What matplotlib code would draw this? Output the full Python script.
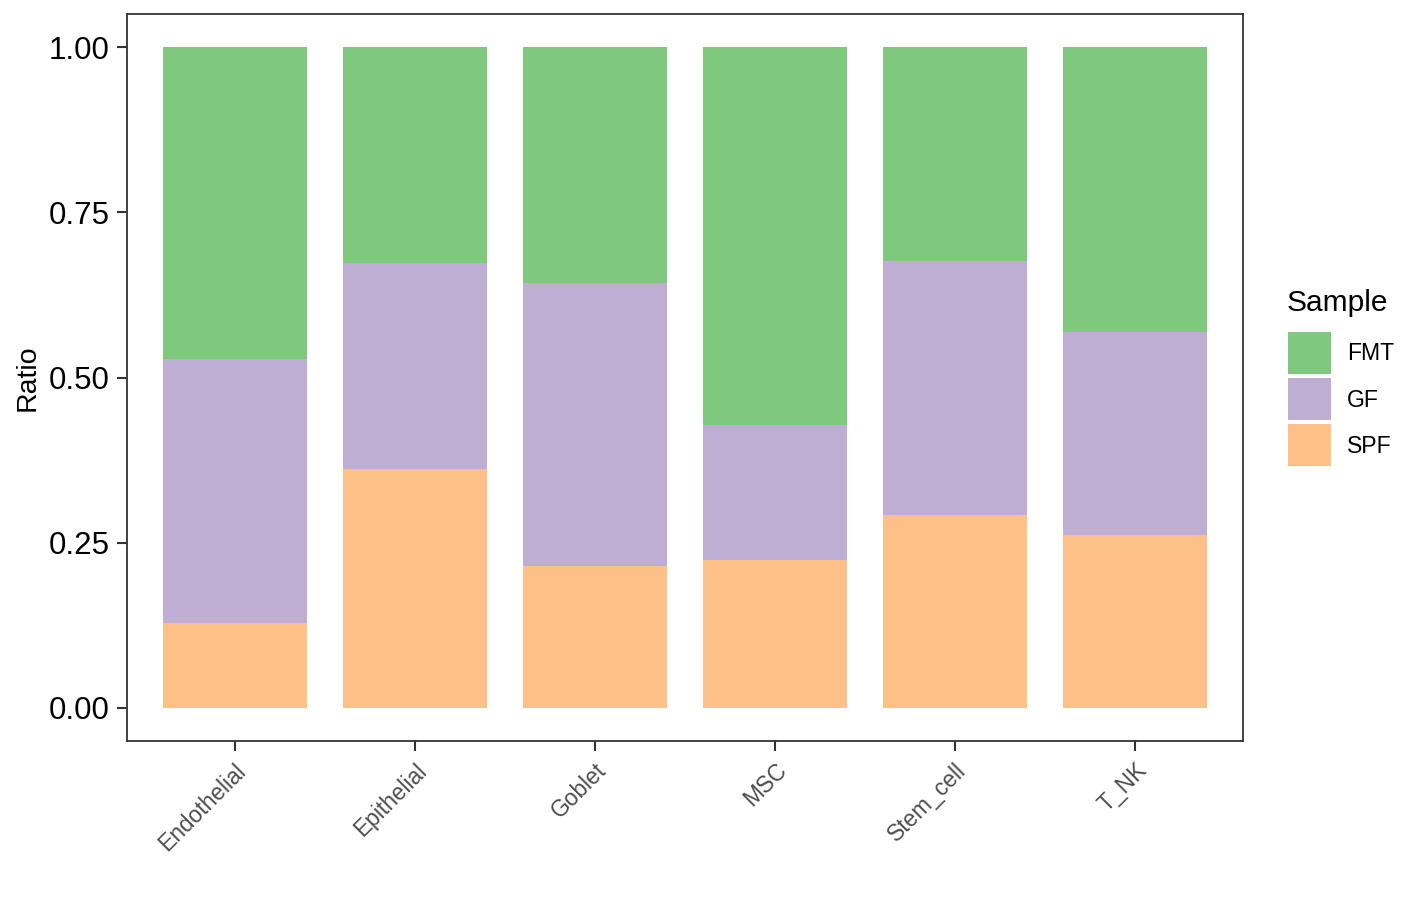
import matplotlib
matplotlib.use("Agg")
import matplotlib.pyplot as plt
from matplotlib.patches import Rectangle
import numpy as np

plt.rcParams['font.family'] = ['Liberation Sans', 'DejaVu Sans']

categories = ["Endothelial", "Epithelial", "Goblet", "MSC", "Stem_cell", "T_NK"]
samples = ["FMT", "GF", "SPF"]
spf = [0.129, 0.362, 0.215, 0.224, 0.292, 0.262]
gf = [0.399, 0.311, 0.428, 0.204, 0.384, 0.307]
fmt = [1 - a - b for a, b in zip(spf, gf)]
colors = {"FMT": "#7FC97F", "GF": "#BEAED4", "SPF": "#FDC086"}
yticks = [0.00, 0.25, 0.50, 0.75, 1.00]
ytick_labels = ["0.00", "0.25", "0.50", "0.75", "1.00"]

W, H = 1424, 898
fig = plt.figure(figsize=(W / 100, H / 100), dpi=100)
ax = fig.add_axes([126.5 / W, 1 - 741 / H, (1243 - 126.5) / W, (741 - 14) / H])

x = np.arange(len(categories))
ax.bar(x, spf, width=0.8, color=colors["SPF"], linewidth=0)
ax.bar(x, gf, width=0.8, bottom=spf, color=colors["GF"], linewidth=0)
ax.bar(x, fmt, width=0.8, bottom=np.array(spf) + np.array(gf), color=colors["FMT"], linewidth=0)

ax.set_xlim(-0.6, len(categories) - 0.4)
ax.set_ylim(-0.05, 1.05)
ax.set_yticks(yticks)
ax.set_yticklabels(ytick_labels, fontsize=22.5, color="black")
ax.set_xticks(x)
ax.set_xticklabels(categories, rotation=45, ha="right", rotation_mode="anchor",
                   fontsize=16.4, color="#4D4D4D")
ax.tick_params(axis="both", length=7, width=1.5, color="#333333")
ax.tick_params(axis="y", pad=5)
ax.tick_params(axis="x", pad=6)
for s in ax.spines.values():
    s.set_color("#333333")
    s.set_linewidth(1.3)
ax.set_ylabel("Ratio", fontsize=20.5, labelpad=6)

# legend
fig.text(1287 / W, 1 - 303 / H, "Sample", fontsize=21.5, va="center", ha="left")
key_tops = [332, 378, 424]
for s, top in zip(samples, key_tops):
    fig.patches.append(Rectangle((1288 / W, 1 - (top + 42) / H), 43 / W, 42 / H,
                                 transform=fig.transFigure, color=colors[s], linewidth=0))
    fig.text(1347 / W, 1 - (top + 22) / H, s, fontsize=16.6, va="center", ha="left")

fig.savefig("out.png", dpi=100)
